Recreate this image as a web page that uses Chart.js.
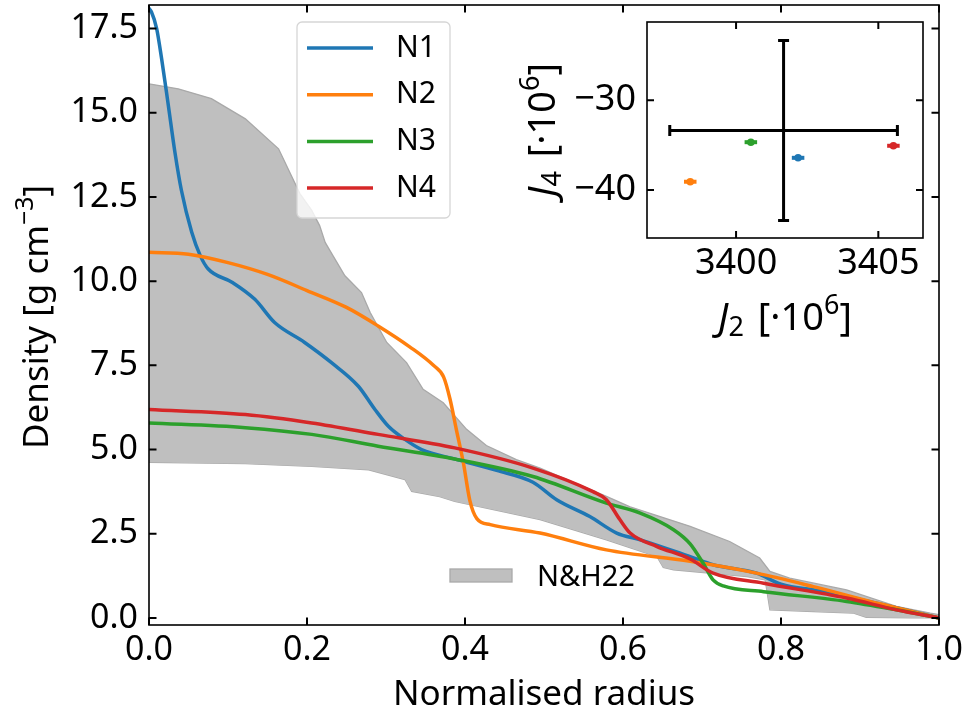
<!DOCTYPE html>
<html>
<head>
<meta charset="utf-8">
<title>Density profiles</title>
<script src="https://cdn.jsdelivr.net/npm/chart.js@4.4.1/dist/chart.umd.min.js"></script>
<style>
  body { margin: 0; background: #fff; }
  #wrap { position: relative; width: 971px; height: 712px; }
  #main { position: absolute; left: 0; top: 0; }
  #inset { position: absolute; left: 480px; top: 0; }
</style>
</head>
<body>
<div id="wrap">
  <canvas id="main" width="971" height="712"></canvas>
  <canvas id="inset" width="491" height="360"></canvas>
</div>
<script>
const FAMILY = "'Noto Sans', sans-serif";
const BLUE = "#1f77b4";
const ORANGE = "#ff7f0e";
const GREEN = "#2ca02c";
const RED = "#d62728";

// ---- main panel: density vs normalised radius ----
const radiusN1 = [0, 0.003, 0.0097, 0.016, 0.024, 0.033, 0.041, 0.054, 0.065, 0.075, 0.105, 0.134, 0.159, 0.197, 0.231, 0.265, 0.286, 0.303, 0.324, 0.345, 0.39, 0.44, 0.486, 0.516, 0.558, 0.592, 0.622, 0.685, 0.714, 0.769, 0.8, 0.85, 0.9, 0.95, 1.0];
const densityN1 = [18.1, 18.0, 17.5, 16.6, 15.3, 13.8, 12.7, 11.46, 10.75, 10.36, 9.97, 9.46, 8.77, 8.18, 7.58, 6.88, 6.19, 5.69, 5.3, 5.0, 4.7, 4.38, 4.03, 3.51, 3.01, 2.52, 2.32, 1.82, 1.58, 1.33, 1.0, 0.8, 0.55, 0.28, 0.0];

const radiusN2 = [0, 0.05, 0.1, 0.15, 0.2, 0.25, 0.29, 0.33, 0.36, 0.373, 0.381, 0.389, 0.398, 0.406, 0.415, 0.432, 0.495, 0.579, 0.685, 0.769, 0.841, 0.925, 1.0];
const densityN2 = [10.86, 10.8, 10.55, 10.2, 9.72, 9.22, 8.67, 8.05, 7.5, 7.15, 6.5, 5.6, 4.6, 3.5, 2.95, 2.77, 2.52, 2.02, 1.68, 1.33, 0.93, 0.42, 0.0];

const radiusN3 = [0, 0.122, 0.206, 0.29, 0.387, 0.486, 0.579, 0.621, 0.664, 0.685, 0.702, 0.714, 0.727, 0.778, 0.883, 0.946, 1.0];
const densityN3 = [5.79, 5.65, 5.45, 5.1, 4.72, 4.2, 3.41, 3.12, 2.62, 2.2, 1.6, 1.13, 0.95, 0.78, 0.49, 0.24, 0.0];

const radiusN4 = [0, 0.122, 0.206, 0.29, 0.387, 0.486, 0.562, 0.579, 0.596, 0.609, 0.643, 0.685, 0.714, 0.778, 0.883, 0.946, 1.0];
const densityN4 = [6.19, 6.04, 5.79, 5.45, 5.05, 4.45, 3.75, 3.51, 2.92, 2.52, 2.12, 1.75, 1.33, 1.03, 0.59, 0.24, 0.0];

// N&H22 envelope
const radiusUpper = [0, 0.037, 0.079, 0.122, 0.164, 0.191, 0.206, 0.216, 0.223, 0.233, 0.248, 0.269, 0.28, 0.301, 0.326, 0.347, 0.3725, 0.402, 0.427, 0.465, 0.495, 0.579, 0.609, 0.685, 0.735, 0.773, 0.786, 0.811, 0.883, 0.946, 0.989, 1.0];
const densityUpper = [15.86, 15.71, 15.42, 14.82, 13.93, 12.6, 12.1, 11.65, 11.15, 10.75, 10.16, 9.66, 9.07, 8.18, 7.58, 6.79, 6.39, 5.6, 5.12, 4.7, 4.45, 3.61, 3.3, 2.72, 2.27, 1.78, 1.38, 1.18, 0.83, 0.34, 0.14, 0.1];
const radiusLower = [0, 0.122, 0.206, 0.278, 0.324, 0.3325, 0.368, 0.387, 0.495, 0.579, 0.643, 0.651, 0.664, 0.757, 0.78, 0.786, 0.841, 0.892, 0.908, 0.968, 1.0];
const densityLower = [4.62, 4.58, 4.5, 4.4, 4.11, 3.76, 3.6, 3.46, 2.92, 2.32, 1.82, 1.5, 1.43, 1.23, 1.13, 0.24, 0.19, 0.14, 0.02, 0.0, 0.0];

const X_TICKS = [0, 0.2, 0.4, 0.6, 0.8, 1.0];
const Y_TICKS = [0, 2.5, 5, 7.5, 10, 12.5, 15, 17.5];

// ---- inset: J2 vs J4 ----
const MODEL_NAMES = ["N1", "N2", "N3", "N4"];
const MODEL_COLORS = [BLUE, ORANGE, GREEN, RED];
const MODEL_J2 = [3402.18, 3398.39, 3400.52, 3405.53];
const MODEL_J4 = [-36.41, -39.07, -34.67, -35.07];
const MODEL_J2_ERR = [0.22, 0.22, 0.22, 0.22];
const OBS_J2 = [3401.67];
const OBS_J4 = [-33.37];
const OBS_J2_ERR = [4.0];
const OBS_J4_ERR = [10.0];
const INSET_X_TICKS = [3400, 3405];
const INSET_Y_TICKS = [-40, -30];

Chart.defaults.font.family = FAMILY;
Chart.defaults.color = "#000";

function toPoints(xs, ys) {
    return xs.map((x, i) => ({ x: x, y: ys[i] }));
}

function fontOf(run) {
    return (run.italic ? "italic " : "") + run.size + "px " + FAMILY;
}

// text made of several runs (sub/superscripts), centred on (x, y) baseline
function drawRich(ctx, runs, x, y, angle) {
    ctx.save();
    ctx.translate(x, y);
    ctx.rotate(angle);
    ctx.textBaseline = "alphabetic";
    ctx.textAlign = "left";
    ctx.fillStyle = "#000";
    let total = 0;
    for (const r of runs) {
        ctx.font = fontOf(r);
        total += ctx.measureText(r.text).width + (r.gap || 0);
    }
    let cx = -total / 2;
    for (const r of runs) {
        ctx.font = fontOf(r);
        ctx.fillText(r.text, cx, -(r.rise || 0));
        cx += ctx.measureText(r.text).width + (r.gap || 0);
    }
    ctx.restore();
}

// box with inward ticks on every side
const frameTicks = {
    id: "frameTicks",
    afterDatasetsDraw(chart, args, opts) {
        const { ctx, chartArea: a, scales } = chart;
        const L = opts.tickLength;
        ctx.save();
        ctx.strokeStyle = "#000";
        ctx.lineWidth = opts.tickWidth;
        ctx.beginPath();
        for (const t of scales.x.ticks) {
            const px = scales.x.getPixelForValue(t.value);
            ctx.moveTo(px, a.bottom); ctx.lineTo(px, a.bottom - L);
            ctx.moveTo(px, a.top); ctx.lineTo(px, a.top + L);
        }
        for (const t of scales.y.ticks) {
            const py = scales.y.getPixelForValue(t.value);
            ctx.moveTo(a.left, py); ctx.lineTo(a.left + L, py);
            ctx.moveTo(a.right, py); ctx.lineTo(a.right - L, py);
        }
        ctx.stroke();
        ctx.lineWidth = opts.frameWidth;
        ctx.strokeRect(a.left, a.top, a.right - a.left, a.bottom - a.top);
        ctx.restore();
    }
};

const axisTitles = {
    id: "axisTitles",
    afterDraw(chart, args, opts) {
        for (const t of opts.items) {
            drawRich(chart.ctx, t.runs, t.x, t.y, t.angle || 0);
        }
    }
};

// the two legends of the main panel
const mainLegends = {
    id: "mainLegends",
    afterDraw(chart) {
        const ctx = chart.ctx;
        const ds = chart.data.datasets;
        ctx.save();
        ctx.beginPath();
        ctx.roundRect(297, 22, 153, 196, 5);
        ctx.fillStyle = "rgba(255,255,255,0.8)";
        ctx.fill();
        ctx.strokeStyle = "#d6d6d6";
        ctx.lineWidth = 1.3;
        ctx.stroke();
        ctx.font = "30px " + FAMILY;
        ctx.textBaseline = "middle";
        ctx.textAlign = "left";
        for (let i = 0; i < 4; i++) {
            const y = 48 + i * 46.7;
            ctx.strokeStyle = ds[i].borderColor;
            ctx.lineWidth = 3.5;
            ctx.beginPath();
            ctx.moveTo(307, y);
            ctx.lineTo(373, y);
            ctx.stroke();
            ctx.fillStyle = "#000";
            ctx.fillText(ds[i].label, 396, y);
        }
        const band = ds[4];
        ctx.fillStyle = band.backgroundColor;
        ctx.fillRect(450, 569, 62, 13);
        ctx.strokeStyle = band.borderColor;
        ctx.lineWidth = 1.3;
        ctx.strokeRect(450, 569, 62, 13);
        ctx.fillStyle = "#000";
        ctx.font = "29px " + FAMILY;
        ctx.fillText(band.label, 537, 578);
        ctx.restore();
    }
};

const errorBars = {
    id: "errorBars",
    beforeDatasetsDraw(chart) {
        const { ctx, scales: { x, y } } = chart;
        ctx.save();
        for (const ds of chart.data.datasets) {
            ds.data.forEach((p, i) => {
                const px = x.getPixelForValue(p.x);
                const py = y.getPixelForValue(p.y);
                const cap = ds.capSize || 0;
                ctx.strokeStyle = ds.errColor;
                ctx.lineWidth = ds.errWidth;
                ctx.beginPath();
                if (ds.xErr) {
                    const x0 = x.getPixelForValue(p.x - ds.xErr[i]);
                    const x1 = x.getPixelForValue(p.x + ds.xErr[i]);
                    ctx.moveTo(x0, py); ctx.lineTo(x1, py);
                    if (cap) {
                        ctx.moveTo(x0, py - cap); ctx.lineTo(x0, py + cap);
                        ctx.moveTo(x1, py - cap); ctx.lineTo(x1, py + cap);
                    }
                }
                if (ds.yErr) {
                    const y0 = y.getPixelForValue(p.y - ds.yErr[i]);
                    const y1 = y.getPixelForValue(p.y + ds.yErr[i]);
                    ctx.moveTo(px, y0); ctx.lineTo(px, y1);
                    if (cap) {
                        ctx.moveTo(px - cap, y0); ctx.lineTo(px + cap, y0);
                        ctx.moveTo(px - cap, y1); ctx.lineTo(px + cap, y1);
                    }
                }
                ctx.stroke();
            });
        }
        ctx.restore();
    }
};

function fixedScale(opts) {
    return {
        type: "linear",
        min: opts.min,
        max: opts.max,
        grid: { display: false, drawTicks: false },
        border: { display: false },
        ticks: { font: { size: opts.fontSize }, padding: opts.padding, color: "#000", callback: opts.format },
        afterBuildTicks: s => { s.ticks = opts.ticks.map(v => ({ value: v })); },
        afterFit: s => {
            if (opts.width) s.width = opts.width;
            if (opts.height) s.height = opts.height;
            s.paddingTop = 0; s.paddingBottom = 0; s.paddingLeft = 0; s.paddingRight = 0;
        }
    };
}

const lineStyle = { borderWidth: 3.5, pointRadius: 0, fill: false, cubicInterpolationMode: "monotone" };

new Chart(document.getElementById("main"), {
    type: "line",
    data: {
        datasets: [
            { ...lineStyle, label: "N1", data: toPoints(radiusN1, densityN1), borderColor: BLUE, order: 4 },
            { ...lineStyle, label: "N2", data: toPoints(radiusN2, densityN2), borderColor: ORANGE, order: 3 },
            { ...lineStyle, label: "N3", data: toPoints(radiusN3, densityN3), borderColor: GREEN, order: 2 },
            { ...lineStyle, label: "N4", data: toPoints(radiusN4, densityN4), borderColor: RED, order: 1 },
            {
                label: "N&H22", data: toPoints(radiusUpper, densityUpper),
                borderColor: "#a9a9a9", borderWidth: 1.3, backgroundColor: "#bfbfbf",
                pointRadius: 0, tension: 0, fill: "+1", order: 10
            },
            {
                label: "N&H22 lower", data: toPoints(radiusLower, densityLower),
                borderColor: "#a9a9a9", borderWidth: 1.3, pointRadius: 0, tension: 0, fill: false, order: 11
            }
        ]
    },
    options: {
        responsive: false,
        animation: false,
        layout: { padding: { top: 5, right: 32, left: 0, bottom: 0 } },
        scales: {
            x: fixedScale({ min: 0, max: 1, ticks: X_TICKS, fontSize: 34, padding: 5, height: 87, format: v => v.toFixed(1) }),
            y: fixedScale({ min: -0.21, max: 18.2, ticks: Y_TICKS, fontSize: 34, padding: 11, width: 149, format: v => v.toFixed(1) })
        },
        plugins: {
            legend: { display: false },
            tooltip: { enabled: false },
            frameTicks: { tickLength: 7.5, tickWidth: 2, frameWidth: 1.6 },
            axisTitles: {
                items: [
                    { runs: [{ text: "Normalised radius", size: 35 }], x: 544, y: 705 },
                    {
                        runs: [{ text: "Density [g cm", size: 35 }, { text: "\u22123", size: 25, rise: 15 }, { text: "]", size: 35 }],
                        x: 48, y: 317, angle: -Math.PI / 2
                    }
                ]
            }
        }
    },
    plugins: [frameTicks, axisTitles, mainLegends]
});

const insetSets = MODEL_NAMES.map((name, i) => ({
    label: name,
    data: [{ x: MODEL_J2[i], y: MODEL_J4[i] }],
    backgroundColor: MODEL_COLORS[i],
    borderColor: MODEL_COLORS[i],
    pointRadius: 3.8,
    pointBorderWidth: 0,
    xErr: [MODEL_J2_ERR[i]],
    errColor: MODEL_COLORS[i],
    errWidth: 4
}));
insetSets.push({
    label: "Observed",
    data: toPoints(OBS_J2, OBS_J4),
    pointRadius: 0,
    xErr: OBS_J2_ERR,
    yErr: OBS_J4_ERR,
    errColor: "#000",
    errWidth: 3,
    capSize: 5.5
});

new Chart(document.getElementById("inset"), {
    type: "scatter",
    data: { datasets: insetSets },
    options: {
        responsive: false,
        animation: false,
        layout: { padding: { top: 22, right: 48, left: 0, bottom: 0 } },
        scales: {
            x: fixedScale({ min: 3396.87, max: 3406.57, ticks: INSET_X_TICKS, fontSize: 36, padding: 4, height: 122, format: v => String(v) }),
            y: fixedScale({ min: -45.33, max: -21.3, ticks: INSET_Y_TICKS, fontSize: 36, padding: 11, width: 167, format: v => (v < 0 ? "\u2212" : "") + Math.abs(v) })
        },
        plugins: {
            legend: { display: false },
            tooltip: { enabled: false },
            frameTicks: { tickLength: 7, tickWidth: 2, frameWidth: 1.6 },
            axisTitles: {
                items: [
                    {
                        runs: [{ text: "J", size: 38, italic: true }, { text: "2", size: 27, rise: -6, gap: 4 },
                               { text: " [\u00b710", size: 38 }, { text: "6", size: 27, rise: 16 }, { text: "]", size: 38 }],
                        x: 305, y: 330
                    },
                    {
                        runs: [{ text: "J", size: 38, italic: true }, { text: "4", size: 27, rise: -6, gap: 4 },
                               { text: " [\u00b710", size: 38 }, { text: "6", size: 27, rise: 16 }, { text: "]", size: 38 }],
                        x: 75, y: 130, angle: -Math.PI / 2
                    }
                ]
            }
        }
    },
    plugins: [frameTicks, axisTitles, errorBars]
});
</script>
</body>
</html>
